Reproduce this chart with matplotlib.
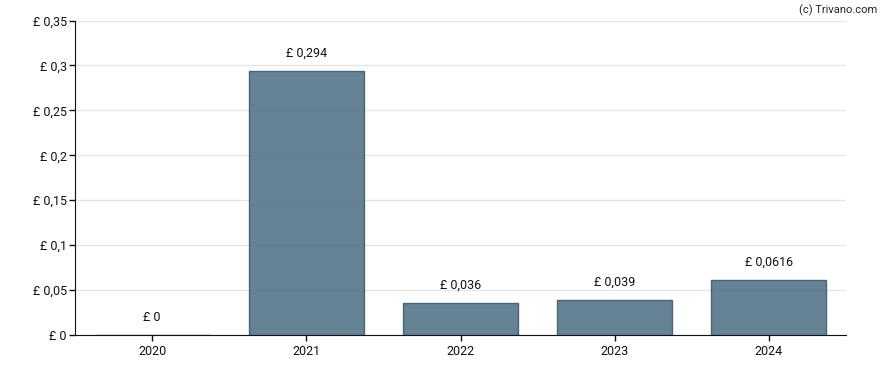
import matplotlib
matplotlib.use("Agg")
import matplotlib.pyplot as plt
from matplotlib.ticker import FixedLocator

plt.rcParams['font.family'] = ['Roboto', 'DejaVu Sans']

years = ["2020", "2021", "2022", "2023", "2024"]
values = [0.0, 0.294, 0.036, 0.039, 0.0616]
value_labels = ["£ 0", "£ 0,294", "£ 0,036", "£ 0,039", "£ 0,0616"]
y_ticks = [0, 0.05, 0.1, 0.15, 0.2, 0.25, 0.3, 0.35]
y_tick_labels = ["£ 0", "£ 0,05", "£ 0,1", "£ 0,15", "£ 0,2", "£ 0,25", "£ 0,3", "£ 0,35"]

fig = plt.figure(figsize=(8.88, 3.70), dpi=100)
ax = fig.add_axes([75/888, 35/370, 771/888, 314.5/370])

x = list(range(len(years)))
ax.bar(x, values, width=0.745, color="#55748a", alpha=0.9,
       edgecolor="#3f5b70", linewidth=1.0, zorder=2)

for xi, v, lab in zip(x, values, value_labels):
    ax.annotate(lab, (xi, v), xytext=(0, 8), textcoords="offset points",
                ha="center", va="bottom", fontsize=9, color="#111111")

ax.set_xlim(-0.5, 4.5)
ax.set_ylim(0, 0.35)
ax.set_xticks(x)
ax.set_xticklabels(years)
ax.yaxis.set_major_locator(FixedLocator(y_ticks))
ax.set_yticklabels(y_tick_labels)
ax.tick_params(axis="both", labelsize=9, length=4, width=1, colors="#111111",
               labelcolor="#111111", pad=3)
ax.tick_params(axis="y", pad=1.8)
ax.grid(axis="y", color="#e6e6e6", linewidth=1, zorder=0)
ax.set_axisbelow(True)
for s in ["top", "right"]:
    ax.spines[s].set_visible(False)
ax.spines["left"].set_color("#111111")
ax.spines["bottom"].set_color("#111111")

fig.text(877/888, 1 - 10/370, "(c) Trivano.com", ha="right", va="center",
         fontsize=8, color="#222222")

fig.savefig("out.png", dpi=100)
